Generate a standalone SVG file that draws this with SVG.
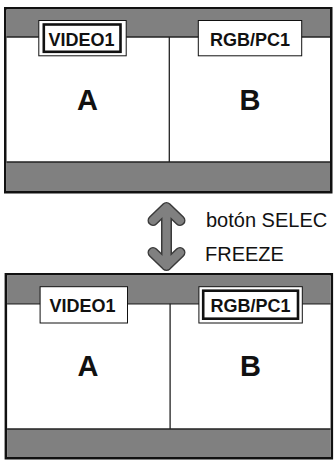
<svg xmlns="http://www.w3.org/2000/svg" width="334" height="461" viewBox="0 0 334 461">
<style>
.frame{fill:#fff;stroke:#111;stroke-width:2.5}
.band{fill:#808080}
.ln{stroke:#222;stroke-width:1.3;fill:none}
.lbl{fill:#fff;stroke:#111;stroke-width:1}
.sel{fill:none;stroke:#111;stroke-width:2.6}
.lt{font-family:"Liberation Sans",Arial,sans-serif;font-weight:bold;font-size:18px;fill:#111;text-anchor:middle}
.big{font-family:"Liberation Sans",Arial,sans-serif;font-weight:bold;font-size:29px;fill:#111;text-anchor:middle}
.cap{font-family:"Liberation Sans",Arial,sans-serif;font-size:20px;fill:#111}
.arO{fill:none;stroke:#3a3a3a;stroke-width:11;stroke-linecap:round;stroke-linejoin:round}
.arI{fill:none;stroke:#808080;stroke-width:8;stroke-linecap:round;stroke-linejoin:round}
</style>
<g id="screen-top">
  <rect class="frame" x="5.25" y="8.25" width="326" height="184"/>
  <rect class="band" x="6.5" y="9.5" width="323.5" height="27.5"/>
  <rect class="band" x="6.5" y="162" width="323.5" height="29"/>
  <line class="ln" x1="6.5" y1="37" x2="330" y2="37"/>
  <line class="ln" x1="6.5" y1="162" x2="330" y2="162"/>
  <line class="ln" x1="169.3" y1="37" x2="169.3" y2="162"/>
  <g id="top-label-video1">
    <rect class="lbl" x="38.8" y="20.5" width="87.4" height="35.3"/>
    <rect class="sel" x="43.8" y="24.5" width="76.7" height="27.3"/>
    <text class="lt" x="81.5" y="45.5">VIDEO1</text>
  </g>
  <g id="top-label-rgb">
    <rect class="lbl" x="198.3" y="20.5" width="103.4" height="35.3"/>
    <text class="lt" x="250" y="45.5">RGB/PC1</text>
  </g>
  <g id="top-panel-a"><text class="big" x="87.5" y="109.5">A</text></g>
  <g id="top-panel-b"><text class="big" x="250" y="109.5">B</text></g>
</g>
<g id="connectors">
  <path class="arO" d="M166.5 208 V265.5 M153 220.5 L166.5 207.5 L180 220.5 M153 252.5 L166.5 265.5 L180 252.5"/>
  <path class="arI" d="M166.5 208 V265.5 M153 220.5 L166.5 207.5 L180 220.5 M153 252.5 L166.5 265.5 L180 252.5"/>
</g>
<g id="caption">
  <text class="cap" x="206" y="226.5">botón SELEC</text>
  <text class="cap" x="205" y="260.5">FREEZE</text>
</g>
<g id="screen-bottom" transform="translate(0.6,266)">
  <rect class="frame" x="5.25" y="8.25" width="326" height="184"/>
  <rect class="band" x="6.5" y="9.5" width="323.5" height="28"/>
  <rect class="band" x="6.5" y="163" width="323.5" height="28"/>
  <line class="ln" x1="6.5" y1="37.8" x2="330" y2="37.8"/>
  <line class="ln" x1="6.5" y1="163" x2="330" y2="163"/>
  <line class="ln" x1="169.5" y1="37.8" x2="169.5" y2="163"/>
  <g id="bottom-label-video1">
    <rect class="lbl" x="39.5" y="20.7" width="87.4" height="36.3"/>
    <text class="lt" x="82" y="46">VIDEO1</text>
  </g>
  <g id="bottom-label-rgb">
    <rect class="lbl" x="198.3" y="20.7" width="103.4" height="36.3"/>
    <rect class="sel" x="202.6" y="24.7" width="94.8" height="28"/>
    <text class="lt" x="250" y="46">RGB/PC1</text>
  </g>
  <g id="bottom-panel-a"><text class="big" x="87.5" y="110">A</text></g>
  <g id="bottom-panel-b"><text class="big" x="250" y="110">B</text></g>
</g>
</svg>
